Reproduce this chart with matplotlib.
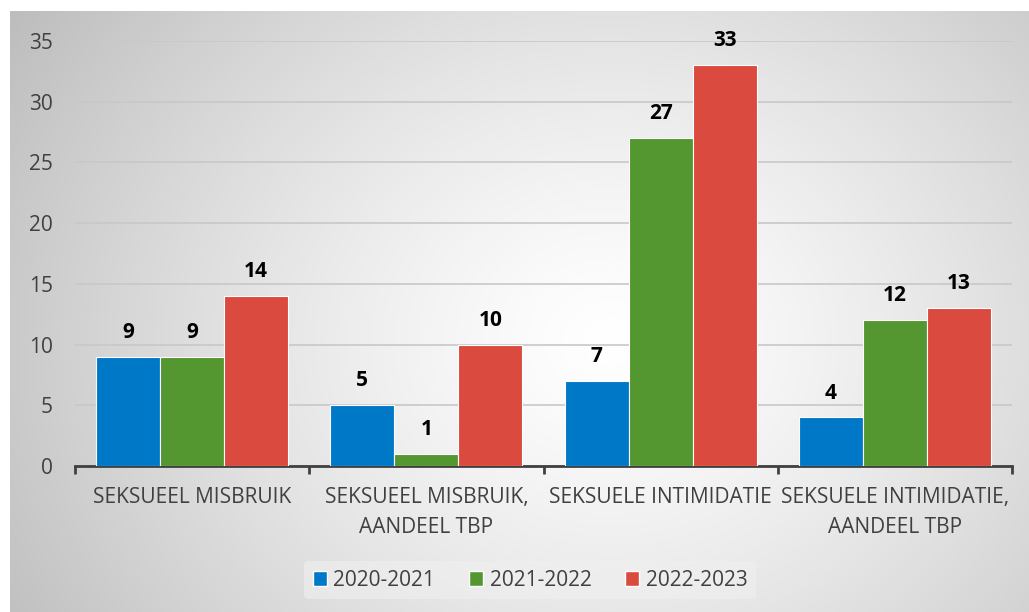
import numpy as np
import matplotlib
matplotlib.use("Agg")
import matplotlib.pyplot as plt
from matplotlib.patches import Patch

categories = ["SEKSUEEL MISBRUIK", "SEKSUEEL MISBRUIK,\nAANDEEL TBP",
              "SEKSUELE INTIMIDATIE", "SEKSUELE INTIMIDATIE,\nAANDEEL TBP"]
series_names = ["2020-2021", "2021-2022", "2022-2023"]
values_2020 = [9, 5, 7, 4]
values_2021 = [9, 1, 27, 12]
values_2022 = [14, 10, 33, 13]
colors = ["#0078c8", "#54962f", "#db4a3e"]

W, H = 1029, 612
fig = plt.figure(figsize=(W / 100, H / 100), dpi=100)
fig.patch.set_facecolor("white")

# background gradient
bg = fig.add_axes([10 / W, 0, 1 - 10 / W, 1 - 11 / H], zorder=-10)
yy, xx = np.mgrid[0:601, 0:1019]
cx, cy = 600, 330
r = np.sqrt(((xx - cx) / 1.0) ** 2 + ((yy - cy) / 0.85) ** 2)
r = r / r.max()
g = 1.0 - 0.26 * np.clip(r, 0, 1) ** 1.3
img = np.dstack([g, g, g])
bg.imshow(img, aspect="auto", extent=[0, 1, 0, 1], origin="upper")
bg.set_axis_off()

ax = fig.add_axes([75 / W, 1 - 466 / H, 937 / W, 425 / H])
ax.set_facecolor("none")
x = np.arange(len(categories))
bw = 0.273
for i, (vals, c, name) in enumerate(zip([values_2020, values_2021, values_2022], colors, series_names)):
    pos = x + (i - 1) * bw
    ax.bar(pos, vals, width=bw, color=c, edgecolor="white", linewidth=0.8, label=name, zorder=3)
    for p, v in zip(pos, vals):
        ax.annotate(str(v), (p, v), xytext=(0, 10), textcoords="offset points",
                    ha="center", va="bottom", fontsize=15, fontweight="bold",
                    color="black", family="Open Sans")

ax.set_xlim(-0.5, 3.5)
ax.set_ylim(0, 35)
ax.set_yticks(range(0, 36, 5))
ax.yaxis.grid(True, color="#c8c8c8", linewidth=1.2, zorder=0)
ax.set_axisbelow(True)
for s in ["top", "right", "left"]:
    ax.spines[s].set_visible(False)
ax.spines["bottom"].set_color("#404040")
ax.spines["bottom"].set_linewidth(2)
ax.tick_params(axis="y", length=0, labelsize=15, labelcolor="#404040", pad=16)
ax.set_xticks([-0.5, 0.5, 1.5, 2.5, 3.5])
ax.set_xticklabels([])
ax.set_xticks(x, minor=True)
ax.set_xticklabels(categories, minor=True, fontsize=15, color="#404040", family="Open Sans",
                   linespacing=1.55)
ax.tick_params(axis="x", which="major", length=6, width=2, color="#404040", direction="out")
ax.tick_params(axis="x", which="minor", length=0, pad=15)
for lab in ax.get_yticklabels():
    lab.set_family("Open Sans")

handles = [Patch(facecolor=c, edgecolor="white", label=n) for c, n in zip(colors, series_names)]
leg = fig.legend(handles=handles, loc="center", bbox_to_anchor=(530 / W, 1 - 580 / H),
                 ncol=3, frameon=True, handlelength=0.7, handleheight=0.7,
                 handletextpad=0.3, columnspacing=1.6, prop={"family": "Open Sans", "size": 15})
leg.get_frame().set_facecolor("#f0f0f0")
leg.get_frame().set_edgecolor("none")
leg.get_frame().set_alpha(0.6)
for t in leg.get_texts():
    t.set_color("#404040")

fig.savefig("out.png", dpi=100)
